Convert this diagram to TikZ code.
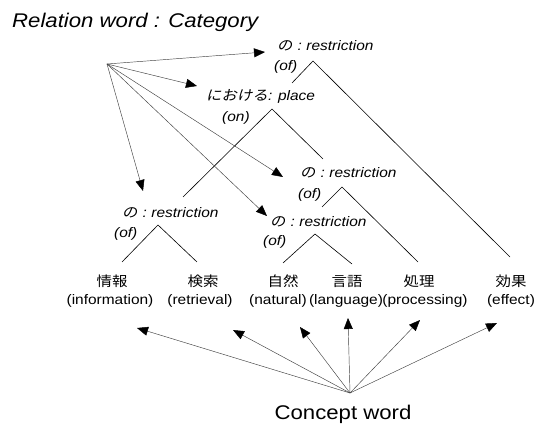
\documentclass[tikz,border=0pt]{standalone}
\usepackage{fontspec}
\setmainfont{Liberation Sans}[FakeStretch=1.12]
\newfontfamily\jp{Noto Sans CJK JP}[FakeStretch=1.12]
\newfontfamily\jpit{Noto Sans CJK JP}[FakeStretch=1.12,FakeSlant=0.2]
\usetikzlibrary{arrows.meta}
\begin{document}
\begin{tikzpicture}[x=1pt,y=-1pt,
  rel/.style={inner sep=0pt, anchor=base west, font=\fontsize{13.8}{16}\selectfont\itshape},
  leaf/.style={inner sep=0pt, anchor=center, font=\fontsize{13.8}{16}\selectfont},
  big/.style={inner sep=0pt, font=\fontsize{19.8}{22}\selectfont},
  leg/.style={line width=0.6pt},
  arr/.style={draw=black!75, line width=0.45pt, -{Triangle[length=11pt,width=9pt,color=black]}},
]
\useasboundingbox (0,0) rectangle (536,427);

% titles
\node[big, anchor=base west, font=\fontsize{19.8}{22}\selectfont\itshape] (title) at (12,28) {Relation word : Category};
\node[big, anchor=base] (concept) at (343,420) {Concept word};

% relation labels
\node[rel] (r1) at (277,51) {{\jpit の}\hspace{5pt}:\hspace{4.5pt}restriction};
\node[rel] (r1of) at (274,71) {(of)};
\node[rel] (r2) at (206,101) {{\jpit における}: place};
\node[rel] (r2of) at (222,122) {(on)};
\node[rel] (r3) at (300,178) {{\jpit の}\hspace{5pt}:\hspace{4.5pt}restriction};
\node[rel] (r3of) at (298,199) {(of)};
\node[rel] (r4) at (270,227) {{\jpit の}\hspace{5pt}:\hspace{4.5pt}restriction};
\node[rel] (r4of) at (263,246) {(of)};
\node[rel] (r5) at (122,218) {{\jpit の}\hspace{5pt}:\hspace{4.5pt}restriction};
\node[rel] (r5of) at (114,238) {(of)};

% leaves
\node[leaf] (j1) at (112,281) {\jp 情報};
\node[leaf] (e1) at (110,301) {(information)};
\node[leaf] (j2) at (203,281) {\jp 検索};
\node[leaf] (e2) at (200,301) {(retrieval)};
\node[leaf] (j3) at (283,281) {\jp 自然};
\node[leaf] (e3) at (278,301) {(natural)};
\node[leaf] (j4) at (347,281) {\jp 言語};
\node[leaf] (e4) at (346,301) {(language)};
\node[leaf] (j5) at (419,281) {\jp 処理};
\node[leaf] (e5) at (425,301) {(processing)};
\node[leaf] (j6) at (511,281) {\jp 効果};
\node[leaf] (e6) at (511,301) {(effect)};

% tree coordinates
\coordinate (a1) at (313,61);  \coordinate (a1l) at (292,83);  \coordinate (a1r) at (510,257);
\coordinate (a2) at (272,109); \coordinate (a2l) at (183,197); \coordinate (a2r) at (323,159);
\coordinate (a3) at (342,187); \coordinate (a3l) at (322,207); \coordinate (a3r) at (418,262);
\coordinate (a4) at (315,234); \coordinate (a4l) at (283,263); \coordinate (a4r) at (352,264);
\coordinate (a5) at (158,225); \coordinate (a5l) at (122,262); \coordinate (a5r) at (197,262);

\draw[leg] (a1l) -- (a1) -- (a1r);
\draw[leg] (a2l) -- (a2) -- (a2r);
\draw[leg] (a3l) -- (a3) -- (a3r);
\draw[leg] (a4l) -- (a4) -- (a4r);
\draw[leg] (a5l) -- (a5) -- (a5r);

% relation-word arrows
\coordinate (src) at (107,64);
\coordinate (t1) at (265,52);
\coordinate (t2) at (197,86);
\coordinate (t3) at (143,191);
\coordinate (t4) at (283,177);
\coordinate (t5) at (267,216);
\foreach \t in {t1,t2,t3,t4,t5} \draw[arr] (src) -- (\t);

% concept-word arrows
\coordinate (csrc) at (350,393);
\coordinate (c1) at (137,328);
\coordinate (c2) at (233,330);
\coordinate (c3) at (300,327);
\coordinate (c4) at (348,318);
\coordinate (c5) at (420,320);
\coordinate (c6) at (497,323);
\foreach \t in {c1,c2,c3,c4,c5,c6} \draw[arr] (csrc) -- (\t);
\end{tikzpicture}
\end{document}
